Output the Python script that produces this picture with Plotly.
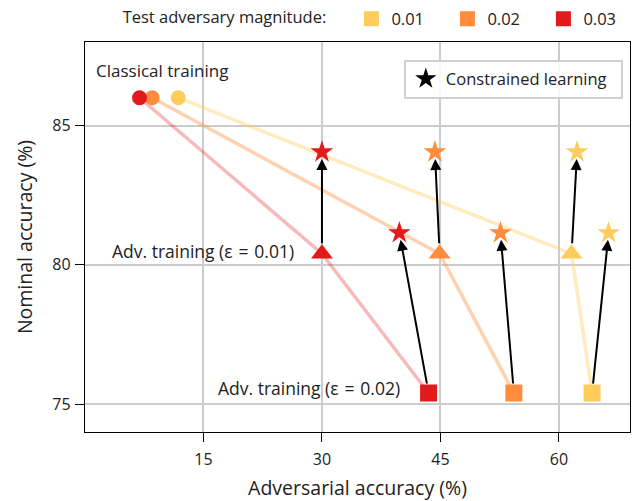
import plotly.graph_objects as go

# ---- data ----
magnitudes = ["0.01", "0.02", "0.03"]
colors = ["#FECC5C", "#FD8D3C", "#E31A1C"]
faded = ["rgba(254,204,92,0.4)", "rgba(253,141,60,0.4)", "rgba(227,26,28,0.3)"]

classical_adv = [11.8, 8.5, 6.9]
classical_nom = [86.0, 86.0, 86.0]
advtr01_adv = [61.6, 44.9, 30.0]
advtr01_nom = [80.4, 80.4, 80.4]
advtr02_adv = [64.2, 54.3, 43.5]
advtr02_nom = [75.4, 75.4, 75.4]
constr01_adv = [62.3, 44.3, 30.0]
constr01_nom = [84.05, 84.05, 84.05]
constr02_adv = [66.3, 52.6, 39.8]
constr02_nom = [81.15, 81.15, 81.15]

x_ticks = [15, 30, 45, 60]
y_ticks = [75, 80, 85]

FONT = "Open Sans"
TXT = "#222222"
EQ = "\u2004=\u2004"

fig = go.Figure()

# faded connecting lines
for i in range(3):
    fig.add_trace(go.Scatter(
        x=[classical_adv[i], advtr01_adv[i], advtr02_adv[i]],
        y=[classical_nom[i], advtr01_nom[i], advtr02_nom[i]],
        mode="lines", line=dict(color=faded[i], width=3.5),
        showlegend=False, hoverinfo="skip"))

# markers (drawn 0.01 first so 0.03 circles are on top)
for i in range(3):
    fig.add_trace(go.Scatter(
        x=[classical_adv[i], advtr01_adv[i], advtr02_adv[i]],
        y=[classical_nom[i], advtr01_nom[i], advtr02_nom[i]],
        mode="markers",
        marker=dict(color=colors[i], size=[15, 19, 17], opacity=1,
                    symbol=["circle", "triangle-up", "square"], line=dict(width=0)),
        showlegend=False))

# arrows (start at marker edges)
for i in range(3):
    fig.add_annotation(x=constr01_adv[i], y=constr01_nom[i], ax=advtr01_adv[i], ay=advtr01_nom[i],
                       xref="x", yref="y", axref="x", ayref="y", text="", showarrow=True,
                       arrowhead=2, arrowsize=1.1, arrowwidth=2, arrowcolor="black",
                       standoff=7, startstandoff=9)
    fig.add_annotation(x=constr02_adv[i], y=constr02_nom[i], ax=advtr02_adv[i], ay=advtr02_nom[i],
                       xref="x", yref="y", axref="x", ayref="y", text="", showarrow=True,
                       arrowhead=2, arrowsize=1.1, arrowwidth=2, arrowcolor="black",
                       standoff=7, startstandoff=8)

# stars
for i in range(3):
    fig.add_trace(go.Scatter(
        x=[constr01_adv[i], constr02_adv[i]],
        y=[constr01_nom[i], constr02_nom[i]],
        mode="markers",
        marker=dict(color=colors[i], size=17, symbol="star", line=dict(width=0)),
        showlegend=False))

# legend entries: magnitudes
for i in range(3):
    fig.add_trace(go.Scatter(
        x=[None], y=[None], mode="markers", name=magnitudes[i],
        marker=dict(color=colors[i], size=15, symbol="square"),
        legend="legend"))

fig.add_trace(go.Scatter(
    x=[None], y=[None], mode="markers", name="Constrained learning\u00a0\u00a0",
    marker=dict(color="black", size=16, symbol="star"), legend="legend2"))

# text labels
LBL = dict(size=17.5, color=TXT, family=FONT)
fig.add_annotation(x=classical_adv[2], y=classical_nom[2], text="Classical training",
                   showarrow=False, xanchor="left", yanchor="middle",
                   xshift=-46, yshift=27, font=dict(size=17, color=TXT, family=FONT))
fig.add_annotation(x=advtr01_adv[2], y=advtr01_nom[2], text="Adv. training (ε" + EQ + "0.01)",
                   showarrow=False, xanchor="right", yanchor="middle",
                   xshift=-26, yshift=3, font=LBL)
fig.add_annotation(x=advtr02_adv[2], y=advtr02_nom[2], text="Adv. training (ε" + EQ + "0.02)",
                   showarrow=False, xanchor="right", yanchor="middle",
                   xshift=-27, yshift=5, font=LBL)

axis_common = dict(showline=True, linecolor="black", linewidth=1.3, mirror=True,
                   ticks="outside", ticklen=9, tickcolor="black", tickwidth=1.2,
                   showgrid=True, gridcolor="#cccccc", gridwidth=1.5, zeroline=False,
                   automargin=False,
                   tickfont=dict(size=16, color=TXT, family=FONT))

fig.update_layout(
    width=635, height=501,
    margin=dict(l=85, r=5, t=42, b=69, autoexpand=False),
    paper_bgcolor="white", plot_bgcolor="white",
    font=dict(family=FONT, color=TXT),
    xaxis=dict(range=[0, 69], tickvals=x_ticks, ticklabelstandoff=4,
               title=dict(text="Adversarial accuracy (%)", font=dict(size=19.5), standoff=12),
               **axis_common),
    yaxis=dict(range=[74, 88], tickvals=y_ticks, ticklabelstandoff=1,
               title=dict(text="Nominal accuracy (%)", font=dict(size=19.5), standoff=14),
               **axis_common),
    legend=dict(orientation="h", xref="container", yref="container",
                x=0.19, y=0.962, xanchor="left", yanchor="middle",
                title=dict(text="Test adversary magnitude:\u00a0\u00a0\u00a0\u00a0", side="left",
                           font=dict(size=16.5)),
                font=dict(size=16.5), entrywidth=51, bgcolor="rgba(0,0,0,0)", borderwidth=0),
    legend2=dict(x=0.585, y=0.955, xanchor="left", yanchor="top",
                 font=dict(size=16.5), bgcolor="rgba(255,255,255,0.85)",
                 bordercolor="#d0d0d0", borderwidth=2),
)

fig.write_html("out.html", config={"displayModeBar": False},
               post_script="document.body.style.margin='0px';")
